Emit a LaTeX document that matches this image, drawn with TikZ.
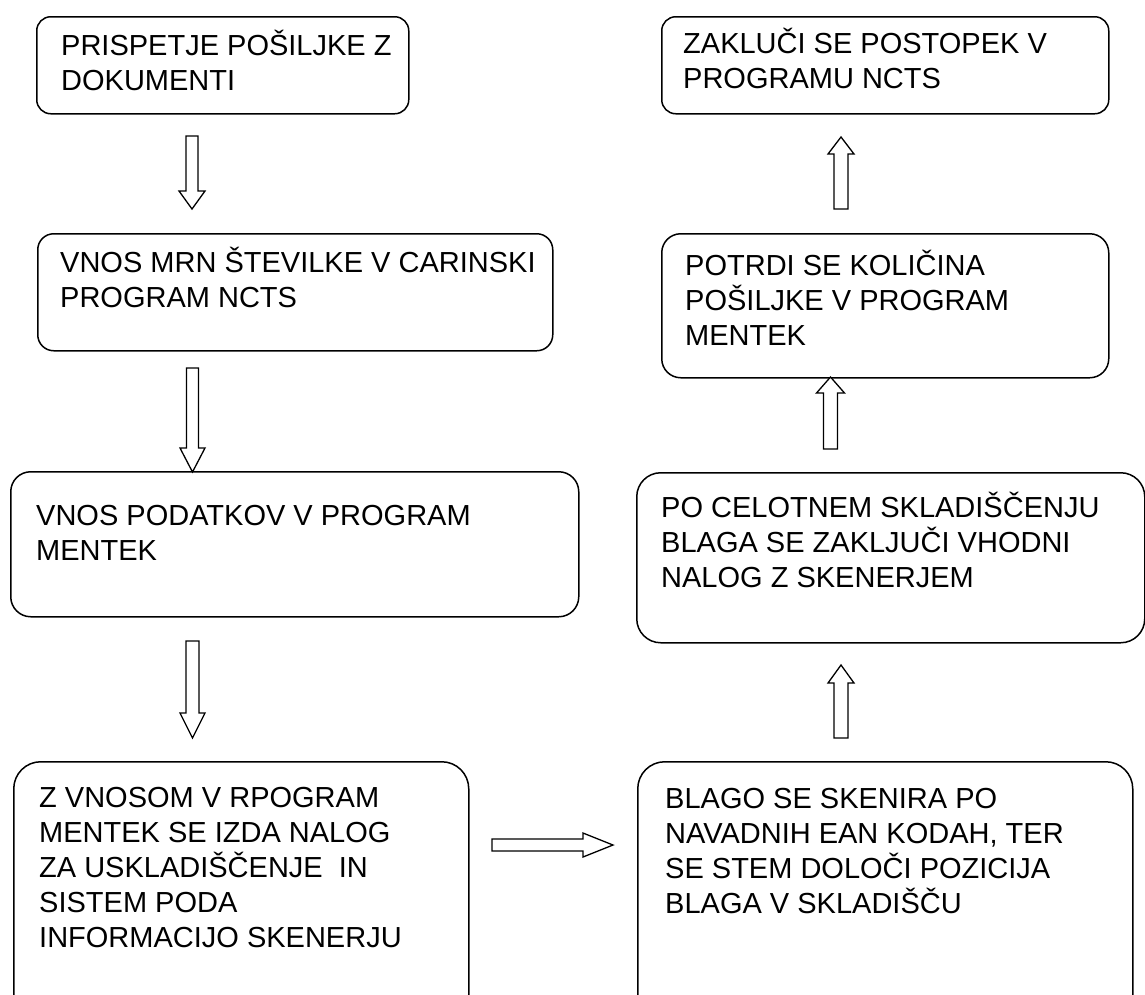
\documentclass[tikz,border=0pt]{standalone}
\usepackage{fontspec}
\setmainfont{Liberation Sans}
\newcommand{\varrow}[6]{%
  \draw[blockarr] ({#1-#5},#2) -- ({#1-#5},#3) -- ({#1-#6},#3) -- (#1,#4) -- ({#1+#6},#3) -- ({#1+#5},#3) -- ({#1+#5},#2) -- cycle;}
\newcommand{\harrow}[6]{%
  \draw[blockarr] (#2,{#1-#5}) -- (#3,{#1-#5}) -- (#3,{#1-#6}) -- (#4,#1) -- (#3,{#1+#6}) -- (#3,{#1+#5}) -- (#2,{#1+#5}) -- cycle;}
\newcommand{\boxtext}[1]{\parbox[t]{700pt}{\raggedright #1}}
\begin{document}
\begin{tikzpicture}[x=1pt,y=-1pt,
  box/.style={draw, line width=1.5pt, anchor=north west, inner sep=0pt},
  txt/.style={anchor=base west, inner sep=0pt, font=\fontsize{29}{35}\selectfont},
  blockarr/.style={draw, line width=1.3pt, fill=white, line join=miter}]
\useasboundingbox (0,0) rectangle (1145,994);
\clip (0,0) rectangle (1145,994);
% boxes
\node[box, rounded corners=14pt, minimum width=372pt, minimum height=97pt] (b1) at (36,16) {};
\node[box, rounded corners=16pt, minimum width=515pt, minimum height=117pt] (b2) at (37,233) {};
\node[box, rounded corners=20pt, minimum width=568pt, minimum height=145pt] (b3) at (10,471) {};
\node[box, rounded corners=27pt, minimum width=455pt, minimum height=260pt] (b4) at (13,761) {};
\node[box, rounded corners=27pt, minimum width=495pt, minimum height=260pt] (b5) at (637,761) {};
\node[box, rounded corners=24pt, minimum width=508pt, minimum height=170pt] (b6) at (636,472) {};
\node[box, rounded corners=19pt, minimum width=447pt, minimum height=144pt] (b7) at (661,233) {};
\node[box, rounded corners=14pt, minimum width=447pt, minimum height=97pt] (b8) at (661,16) {};
% texts
\node[txt] (t1) at (61,55) {\boxtext{PRISPETJE POŠILJKE Z\\DOKUMENTI}};
\node[txt] (t2) at (60,272) {\boxtext{VNOS MRN ŠTEVILKE V CARINSKI\\PROGRAM NCTS}};
\node[txt] (t3) at (36,525) {\boxtext{VNOS PODATKOV V PROGRAM\\MENTEK}};
\node[txt] (t4) at (39,807) {\boxtext{Z VNOSOM V RPOGRAM\\MENTEK SE IZDA NALOG\\ZA USKLADIŠČENJE\ \ IN\\SISTEM PODA\\INFORMACIJO SKENERJU}};
\node[txt] (t5) at (665,808) {\boxtext{BLAGO SE SKENIRA PO\\NAVADNIH EAN KODAH, TER\\SE STEM DOLOČI POZICIJA\\BLAGA V SKLADIŠČU}};
\node[txt] (t6) at (661,517) {\boxtext{PO CELOTNEM SKLADIŠČENJU\\BLAGA SE ZAKLJUČI VHODNI\\NALOG Z SKENERJEM}};
\node[txt] (t7) at (685,275) {\boxtext{POTRDI SE KOLIČINA\\POŠILJKE V PROGRAM\\MENTEK}};
\node[txt] (t8) at (683,53) {\boxtext{ZAKLUČI SE POSTOPEK V\\PROGRAMU NCTS}};
% block arrows
\varrow{192}{136}{191}{209}{6}{13}
\varrow{192.5}{368}{448}{472}{6}{12.5}
\varrow{192.5}{641}{713}{738}{6.5}{12.5}
\harrow{845}{492}{583}{613}{6}{12}
\varrow{841}{738}{683}{665}{7}{13}
\varrow{830.5}{449}{393}{377}{7}{14}
\varrow{841}{209}{154}{137}{7}{13}
\end{tikzpicture}
\end{document}
